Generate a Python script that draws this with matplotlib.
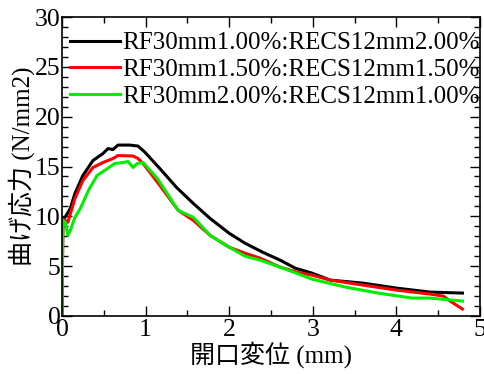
import matplotlib
matplotlib.use("Agg")
import matplotlib.pyplot as plt
from matplotlib.ticker import MultipleLocator

plt.rcParams['font.family'] = ['Liberation Serif', 'Noto Sans CJK JP']

labels = ["RF30mm1.00%:RECS12mm2.00%",
          "RF30mm1.50%:RECS12mm1.50%",
          "RF30mm2.00%:RECS12mm1.00%"]
colors = ["#000000", "#ff0000", "#00ee00"]

x_black = [0.0, 0.01, 0.036, 0.1, 0.155, 0.25, 0.37, 0.49, 0.55, 0.61, 0.67, 0.81, 0.91, 0.99,
           1.17, 1.37, 1.57, 1.77, 2.0, 2.19, 2.4, 2.61, 2.79, 2.99, 3.21, 3.6, 4.0, 4.4, 4.79]
y_black = [0.0, 9.8, 9.9, 10.8, 12.3, 14.1, 15.6, 16.3, 16.8, 16.7, 17.15, 17.15, 17.05, 16.45,
           14.8, 12.9, 11.3, 9.8, 8.3, 7.3, 6.4, 5.6, 4.8, 4.3, 3.6, 3.3, 2.8, 2.4, 2.3]

x_red = [0.0, 0.01, 0.04, 0.07, 0.155, 0.25, 0.37, 0.49, 0.61, 0.67, 0.85, 0.91, 0.97,
         1.17, 1.39, 1.57, 1.77, 2.0, 2.19, 2.37, 2.61, 2.81, 2.99, 3.21, 3.6, 4.0, 4.4, 4.56,
         4.66, 4.79]
y_red = [0.0, 9.7, 9.6, 9.4, 11.8, 13.6, 14.9, 15.4, 15.8, 16.1, 16.05, 15.8, 15.3,
         13.1, 10.6, 9.6, 8.1, 6.9, 6.3, 5.8, 4.9, 4.4, 4.1, 3.6, 3.1, 2.6, 2.2, 2.0,
         1.4, 0.7]

x_green = [0.0, 0.01, 0.04, 0.07, 0.1, 0.155, 0.22, 0.3, 0.33, 0.42, 0.51, 0.63, 0.73, 0.79,
           0.85, 0.9, 0.97, 1.14, 1.39, 1.57, 1.77, 2.0, 2.19, 2.37, 2.61, 2.99, 3.39, 3.78,
           4.19, 4.4, 4.79]
y_green = [0.0, 9.6, 9.4, 8.1, 8.6, 9.9, 10.8, 12.3, 12.8, 14.1, 14.6, 15.3, 15.4, 15.5,
           14.9, 15.3, 15.4, 13.8, 10.6, 9.9, 8.1, 6.9, 6.0, 5.6, 4.9, 3.7, 2.9, 2.3,
           1.8, 1.8, 1.5]

xs = [x_black, x_red, x_green]
ys = [y_black, y_red, y_green]

fig = plt.figure(figsize=(4.84, 3.74), dpi=100)
ax = fig.add_axes([62/484, 1-316/374, 418/484, 299/374])

for x, y, c, lab in zip(xs, ys, colors, labels):
    ax.plot(x, y, color=c, lw=2.2, label=lab)

ax.set_xlim(0, 5)
ax.set_ylim(0, 30)
ax.xaxis.set_major_locator(MultipleLocator(1))
ax.xaxis.set_minor_locator(MultipleLocator(0.5))
ax.yaxis.set_major_locator(MultipleLocator(5))
ax.yaxis.set_minor_locator(MultipleLocator(1))
ax.tick_params(which='both', direction='in', top=True, right=True, labelsize=18.5)
ax.tick_params(axis='y', pad=1)
ax.tick_params(axis='x', pad=2)
ax.tick_params(which='major', length=7, width=1)
ax.tick_params(which='minor', length=4, width=1)
for s in ax.spines.values():
    s.set_linewidth(1.2)

ax.set_xlabel("開口変位 (mm)", fontsize=18, labelpad=0)
ax.set_ylabel("曲げ応力 (N/mm2)", fontsize=18)
ax.yaxis.set_label_coords(-0.065, 0.5)

leg = ax.legend(loc='upper left', bbox_to_anchor=(0.019, 0.95), fontsize=18,
                frameon=False, handlelength=2.0, handletextpad=0.1,
                borderaxespad=0.0, labelspacing=0.17, borderpad=0.0)

fig.savefig("out.png", dpi=100)
